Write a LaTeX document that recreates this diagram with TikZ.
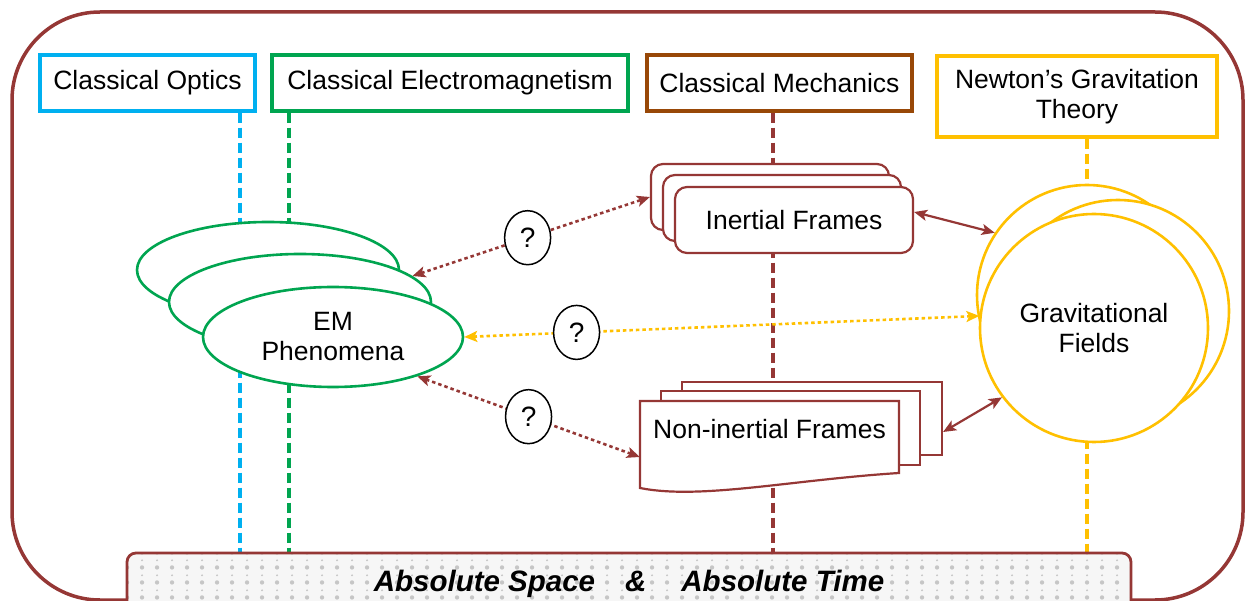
\documentclass[tikz,border=0pt]{standalone}
\usepackage{fontspec}
\setmainfont{Liberation Sans}
\usetikzlibrary{shapes.geometric,arrows.meta,patterns.meta,calc}
\definecolor{framec}{HTML}{953735}
\definecolor{optc}{HTML}{00B0F0}
\definecolor{emc}{HTML}{00A550}
\definecolor{mechc}{HTML}{984807}
\definecolor{gravc}{HTML}{FFC000}
\pgfdeclarelayer{bg}
\pgfsetlayers{bg,main}
\tikzdeclarepattern{
  name=softdots,
  type=uncolored,
  bottom left={(0pt,0pt)},
  top right={(15pt,15pt)},
  tile size={(15pt,15pt)},
  code={
    \pgfpathcircle{\pgfpoint{7.5pt}{3.75pt}}{2.3pt}
    \pgfpathcircle{\pgfpoint{7.5pt}{11.25pt}}{1.1pt}
    \pgfusepath{fill}
  }
}
\begin{document}
\begin{tikzpicture}[x=1pt,y=-1pt,
  lbl/.style={font=\fontsize{26.5}{30}\selectfont},
  topbox/.style={rectangle, draw, line width=3.3pt, fill=white, inner sep=0pt, lbl, align=center, minimum height=56pt},
  vdash/.style={line width=3.2pt, dash pattern=on 10pt off 5pt},
  emell/.style={ellipse, draw=emc, line width=2.6pt, fill=white, inner sep=0pt, minimum width=262pt, minimum height=96pt},
  iframe/.style={rectangle, rounded corners=12pt, draw=framec, line width=2.2pt, fill=white, minimum width=238pt, minimum height=66pt, inner sep=0pt},
  ndoc/.style={rectangle, draw=framec, line width=2.2pt, fill=white, inner sep=0pt},
  gcirc/.style={circle, draw=gravc, line width=2.6pt, fill=white, inner sep=0pt},
  dotarr/.style={line width=2.6pt, dash pattern=on 3.5pt off 3pt, {Stealth[length=13pt,width=11pt,inset=3pt]}-{Stealth[length=13pt,width=11pt,inset=3pt]}},
  solarr/.style={line width=2.2pt, {Stealth[length=13pt,width=11pt,inset=3pt]}-{Stealth[length=13pt,width=11pt,inset=3pt]}},
  qnode/.style={ellipse, draw=black, text=black, solid, line width=1.5pt, fill=white, minimum width=46pt, minimum height=54pt, inner sep=0pt, font=\fontsize{28}{30}\selectfont}
]
\useasboundingbox (0,0) rectangle (1248,601);

% outer frame
\draw[framec, line width=3.5pt, rounded corners=88pt] (12,12) rectangle (1243,600);

% top boxes
\node[topbox, draw=optc, minimum width=215pt] (optics) at (147.5,83) {Classical Optics};
\node[topbox, draw=emc, minimum width=356pt] (cem) at (450,83) {Classical Electromagnetism};
\node[topbox, draw=mechc, minimum width=265pt] (mech) at (779.5,83) {Classical Mechanics};
\node[topbox, draw=gravc, minimum width=280pt, minimum height=81pt] (newton) at (1077,96.5) {Newton’s Gravitation\\Theory};

% EM phenomena
\node[emell] (em1) at (268,270) {};
\node[emell] (em2) at (300,302) {};
\node[emell, minimum width=260pt, minimum height=100pt, lbl, align=center] (em3) at (333,337) {EM\\Phenomena};

% inertial frames
\node[iframe] (ifA) at (770,197) {};
\node[iframe] (ifB) at (782,208) {};
\node[iframe, lbl] (ifC) at (794,220) {Inertial Frames};

% non-inertial frames
\node[ndoc, minimum width=260pt, minimum height=73pt] (nA) at (812,418.5) {};
\node[ndoc, minimum width=259pt, minimum height=74pt] (nB) at (790.5,428) {};
\path[draw=framec, line width=2.2pt, fill=white] (640,401) -- (899,401) -- (899,473)
  .. controls (790,480) and (700,500) .. (640,488) -- cycle;
\node[rectangle, inner sep=0pt, minimum width=259pt, minimum height=56pt, lbl] (ni) at (769.5,429) {Non-inertial Frames};

% gravitational fields
\node[gcirc, minimum size=220pt] (gf1) at (1087,295) {};
\node[gcirc, minimum size=222pt] (gf2) at (1118,311) {};
\node[gcirc, minimum size=228pt, lbl, align=center] (gf3) at (1094,328) {Gravitational\\Fields};

% bottom bar
\path[pattern=softdots, pattern color=gray!45, preaction={fill=gray!7}, rounded corners=9pt] (127,553) rectangle (1131,615);
\node[rectangle, draw=framec, line width=2.8pt, rounded corners=9pt, minimum width=1004pt, minimum height=62pt, inner sep=0pt,
  font=\fontsize{29.5}{32}\selectfont\bfseries\itshape] (bar) at (629,584)
  {Absolute Space\hspace{30pt}\&\hspace{35pt}Absolute Time};

% vertical dashed lines
\begin{pgfonlayer}{bg}
\coordinate (xo) at (240,0);
\coordinate (xe) at (289,0);
\coordinate (xm) at (773,0);
\coordinate (xg) at (1087,0);
\draw[vdash, optc] (xo |- optics.south) -- (xo |- bar.north);
\draw[vdash, emc] (xe |- cem.south) -- (xe |- bar.north);
\draw[vdash, framec] (xm |- mech.south) -- (xm |- bar.north);
\draw[vdash, gravc] (xg |- newton.south) -- (xg |- bar.north);
\end{pgfonlayer}

% relations
\draw[dotarr, color=framec] (em2.13) -- node[qnode, pos=0.485] {?} (ifA.west);
\draw[dotarr, color=gravc] (em3.east) -- node[qnode, pos=0.218] {?} (gf3.174);
\draw[dotarr, color=framec] (em3.-25) -- node[qnode, pos=0.5] {?} ([yshift=-28pt]ni.west);
\draw[solarr, color=framec] ([yshift=8pt]ifC.east) -- (gf1.146);
\draw[solarr, color=framec] ([yshift=-13.5pt]nA.east) -- (gf3.217);
\end{tikzpicture}
\end{document}
